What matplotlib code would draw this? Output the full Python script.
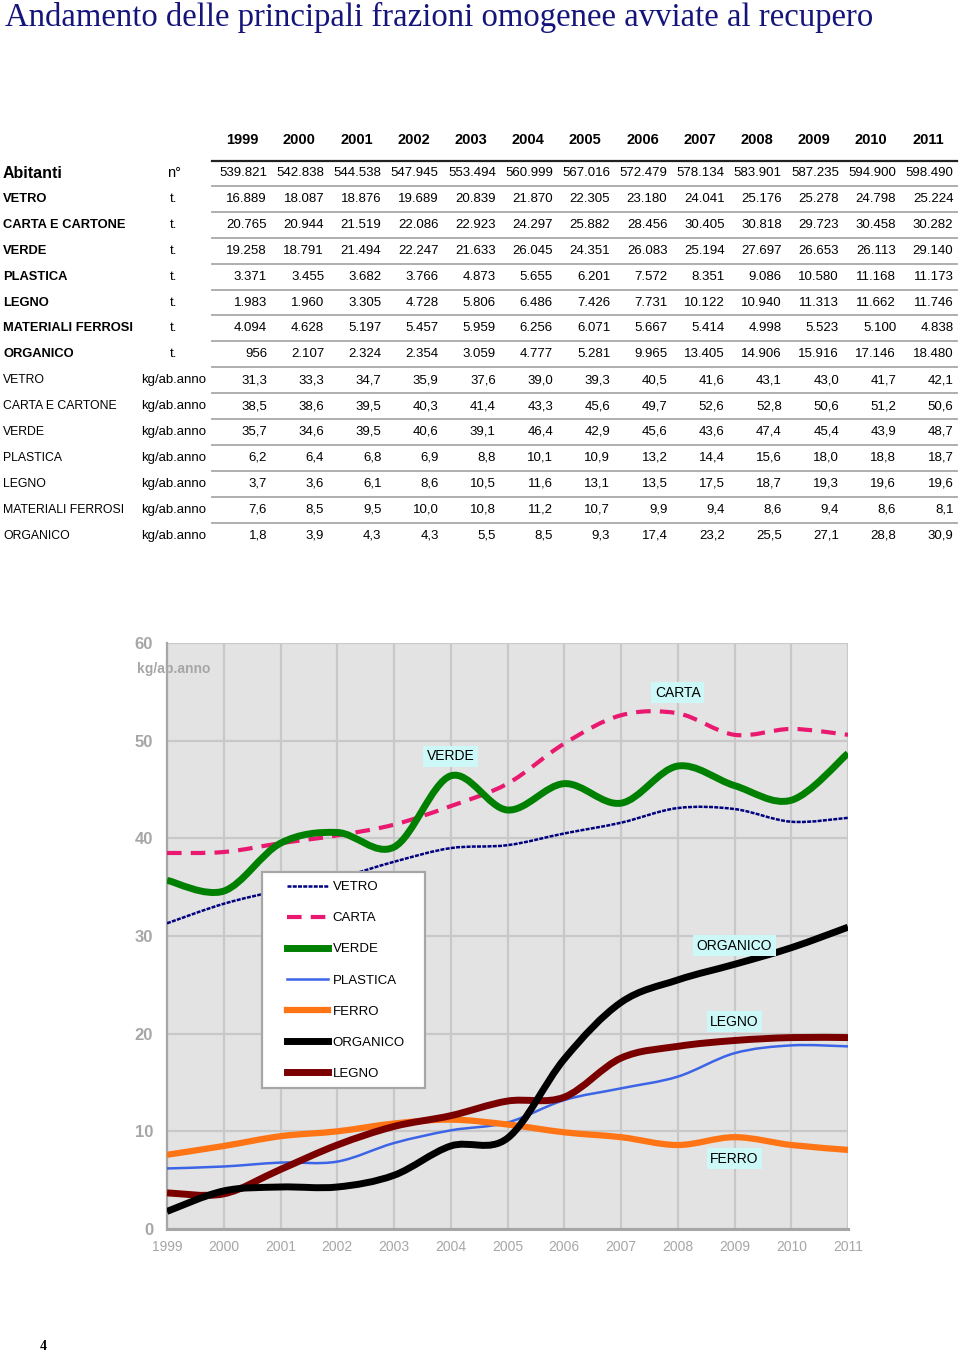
import matplotlib
matplotlib.use("Agg")
import matplotlib.pyplot as plt
from matplotlib.path import Path
from matplotlib.patches import PathPatch, Rectangle
from matplotlib.lines import Line2D

# data
years = [1999, 2000, 2001, 2002, 2003, 2004, 2005, 2006, 2007, 2008, 2009, 2010, 2011]
abitanti = [539821, 542838, 544538, 547945, 553494, 560999, 567016, 572479, 578134, 583901, 587235, 594900, 598490]

t_vetro = [16889, 18087, 18876, 19689, 20839, 21870, 22305, 23180, 24041, 25176, 25278, 24798, 25224]
t_carta = [20765, 20944, 21519, 22086, 22923, 24297, 25882, 28456, 30405, 30818, 29723, 30458, 30282]
t_verde = [19258, 18791, 21494, 22247, 21633, 26045, 24351, 26083, 25194, 27697, 26653, 26113, 29140]
t_plastica = [3371, 3455, 3682, 3766, 4873, 5655, 6201, 7572, 8351, 9086, 10580, 11168, 11173]
t_legno = [1983, 1960, 3305, 4728, 5806, 6486, 7426, 7731, 10122, 10940, 11313, 11662, 11746]
t_ferro = [4094, 4628, 5197, 5457, 5959, 6256, 6071, 5667, 5414, 4998, 5523, 5100, 4838]
t_organico = [956, 2107, 2324, 2354, 3059, 4777, 5281, 9965, 13405, 14906, 15916, 17146, 18480]

kg_vetro = [31.3, 33.3, 34.7, 35.9, 37.6, 39.0, 39.3, 40.5, 41.6, 43.1, 43.0, 41.7, 42.1]
kg_carta = [38.5, 38.6, 39.5, 40.3, 41.4, 43.3, 45.6, 49.7, 52.6, 52.8, 50.6, 51.2, 50.6]
kg_verde = [35.7, 34.6, 39.5, 40.6, 39.1, 46.4, 42.9, 45.6, 43.6, 47.4, 45.4, 43.9, 48.7]
kg_plastica = [6.2, 6.4, 6.8, 6.9, 8.8, 10.1, 10.9, 13.2, 14.4, 15.6, 18.0, 18.8, 18.7]
kg_legno = [3.7, 3.6, 6.1, 8.6, 10.5, 11.6, 13.1, 13.5, 17.5, 18.7, 19.3, 19.6, 19.6]
kg_ferro = [7.6, 8.5, 9.5, 10.0, 10.8, 11.2, 10.7, 9.9, 9.4, 8.6, 9.4, 8.6, 8.1]
kg_organico = [1.8, 3.9, 4.3, 4.3, 5.5, 8.5, 9.3, 17.4, 23.2, 25.5, 27.1, 28.8, 30.9]

t_rows = [("VETRO", t_vetro), ("CARTA E CARTONE", t_carta), ("VERDE", t_verde),
          ("PLASTICA", t_plastica), ("LEGNO", t_legno),
          ("MATERIALI FERROSI", t_ferro), ("ORGANICO", t_organico)]
kg_rows = [("VETRO", kg_vetro), ("CARTA E CARTONE", kg_carta), ("VERDE", kg_verde),
           ("PLASTICA", kg_plastica), ("LEGNO", kg_legno),
           ("MATERIALI FERROSI", kg_ferro), ("ORGANICO", kg_organico)]

W, H = 960, 1354
SANS = ["Liberation Sans", "DejaVu Sans"]
NARROW = ["Liberation Sans Narrow", "Liberation Sans", "DejaVu Sans"]

#plot area in pixels
left, right, top, bottom = 167, 848, 643, 1229


def fx(x):
    return x / W


def fy(y):
    return 1 - y / H


def ax_x(x):
    return (x - left) / (right - left)


def ax_y(y):
    return (bottom - y) / (bottom - top)


def thousands(v):
    return f"{v:,}".replace(",", ".")


def decimal(v):
    return f"{v:.1f}".replace(".", ",")


def smooth_path(xs, ys):
    #bezier segments like the spreadsheet "smoothed line"
    pts = list(zip(xs, ys))
    n = len(pts)
    verts = [pts[0]]
    codes = [Path.MOVETO]
    for i in range(n - 1):
        p0 = pts[i - 1] if i > 0 else pts[i]
        p1 = pts[i]
        p2 = pts[i + 1]
        p3 = pts[i + 2] if i + 2 < n else pts[i + 1]
        c1 = (p1[0] + (p2[0] - p0[0]) / 6, p1[1] + (p2[1] - p0[1]) / 6)
        c2 = (p2[0] - (p3[0] - p1[0]) / 6, p2[1] - (p3[1] - p1[1]) / 6)
        verts += [c1, c2, p2]
        codes += [Path.CURVE4] * 3
    return Path(verts, codes)


fig = plt.figure(figsize=(W / 100, H / 100), dpi=100)

#title
fig.text(fx(5), fy(17), "Andamento delle principali frazioni omogenee avviate al recupero",
         family=["Liberation Serif", "DejaVu Serif"], fontsize=23.6, color="#14147a",
         ha="left", va="center")

#table
col_right = [267 + 57.2 * i for i in range(len(years))]
for xr, yv in zip(col_right, years):
    fig.text(fx(xr - 25), fy(140), str(yv), family=SANS, fontsize=10.5,
             fontweight="bold", ha="center", va="center")

fig.add_artist(Line2D([fx(212), fx(957)], [fy(161), fy(161)], color="#222222", lw=1.6))

row_h = 25.9
y0 = 173
fig.text(fx(3), fy(y0), "Abitanti", family=SANS, fontsize=11.5, fontweight="bold",
         ha="left", va="center")
fig.text(fx(174), fy(y0), "n°", family=SANS, fontsize=10.5, ha="center", va="center")
for xr, v in zip(col_right, abitanti):
    fig.text(fx(xr), fy(y0), thousands(v), family=SANS, fontsize=9.5, ha="right", va="center")

rows = [(name, vals, "t.", True) for name, vals in t_rows] + \
       [(name, vals, "kg/ab.anno", False) for name, vals in kg_rows]
for k, (name, vals, unit, bold) in enumerate(rows):
    yc = y0 + row_h * (k + 1)
    fig.add_artist(Line2D([fx(212), fx(957)], [fy(yc - 13), fy(yc - 13)],
                          color="#a8a8a8", lw=1.3))
    fig.text(fx(3), fy(yc), name, family=SANS, fontsize=9.3 if bold else 8.8,
             fontweight="bold" if bold else "normal", ha="left", va="center")
    fig.text(fx(174), fy(yc), unit, family=SANS, fontsize=9.5, ha="center", va="center")
    for xr, v in zip(col_right, vals):
        txt = thousands(v) if bold else decimal(v)
        fig.text(fx(xr), fy(yc), txt, family=SANS, fontsize=9.5, ha="right", va="center")

#chart
ax = fig.add_axes([fx(left), fy(bottom), (right - left) / W, (bottom - top) / H])
ax.set_facecolor("#e3e3e3")
ax.set_xlim(years[0], years[-1])
ax.set_ylim(0, 60)
ax.set_xticks(years)
ax.set_yticks(range(0, 61, 10))
ax.grid(True, color="#c8c8c8", lw=1.6)
ax.set_axisbelow(True)
for s in ["top", "right"]:
    ax.spines[s].set_visible(False)
ax.spines["left"].set_color("#a6a6a6")
ax.spines["left"].set_linewidth(1.6)
ax.spines["bottom"].set_color("#a6a6a6")
ax.spines["bottom"].set_linewidth(2.2)
ax.tick_params(length=0)
ax.tick_params(axis="y", pad=10, labelsize=12, labelcolor="#a6a6a6")
ax.tick_params(axis="x", pad=8, labelsize=10, labelcolor="#a6a6a6")
for lab in ax.get_yticklabels():
    lab.set_family(SANS)
    lab.set_fontweight("bold")
for lab in ax.get_xticklabels():
    lab.set_family(NARROW)

series = [
    ("VETRO", kg_vetro, dict(color="#000080", lw=1.8, ls=(0, (1.6, 0.5)))),
    ("CARTA", kg_carta, dict(color="#e8196e", lw=3.0, ls=(0, (3.5, 2.2)))),
    ("VERDE", kg_verde, dict(color="#008000", lw=5.0, ls="-")),
    ("PLASTICA", kg_plastica, dict(color="#3c64e6", lw=1.8, ls="-")),
    ("FERRO", kg_ferro, dict(color="#ff7414", lw=4.5, ls="-")),
    ("ORGANICO", kg_organico, dict(color="#000000", lw=5.0, ls="-")),
    ("LEGNO", kg_legno, dict(color="#7a0000", lw=5.0, ls="-")),
]
zorders = {"ORGANICO": 9, "LEGNO": 8}
handles = []
for name, vals, st in series:
    patch = PathPatch(smooth_path(years, vals), fill=False, edgecolor=st["color"],
                      lw=st["lw"], linestyle=st["ls"], zorder=zorders.get(name, 5))
    ax.add_patch(patch)
    handles.append(Line2D([], [], color=st["color"], lw=st["lw"], ls=st["ls"], label=name))

#legend box drawn as its own rectangle, legend itself frameless
box = Rectangle((ax_x(262), ax_y(1088)), ax_x(425) - ax_x(262), ax_y(872) - ax_y(1088),
                transform=ax.transAxes, facecolor="white", edgecolor="#a6a6a6",
                lw=1.6, zorder=19)
ax.add_patch(box)
leg = ax.legend(handles=handles, loc="upper left", bbox_to_anchor=(ax_x(287), ax_y(881)),
                frameon=False, prop={"family": SANS, "size": 9.5},
                labelspacing=1.43, handlelength=3.1, handletextpad=0.35,
                borderpad=0, borderaxespad=0)
leg.set_zorder(20)

#series labels
labels = [("CARTA", 2008, 54.9), ("VERDE", 2004, 48.4), ("ORGANICO", 2009, 29.0),
          ("LEGNO", 2009, 21.2), ("FERRO", 2009, 7.2)]
for txt, lx, ly in labels:
    ax.text(lx, ly, txt, family=SANS, fontsize=10, ha="center", va="center", zorder=15,
            bbox=dict(boxstyle="square,pad=0.25", fc="#ccf8f8", ec="none"))

fig.text(fx(137), fy(669), "kg/ab.anno", family=SANS, fontsize=10, fontweight="bold",
         color="#a6a6a6", ha="left", va="center")

fig.text(fx(43), fy(1346), "4", family=["Liberation Serif", "DejaVu Serif"], fontsize=10,
         fontweight="bold", ha="center", va="center")

fig.savefig("out.png", dpi=100)
